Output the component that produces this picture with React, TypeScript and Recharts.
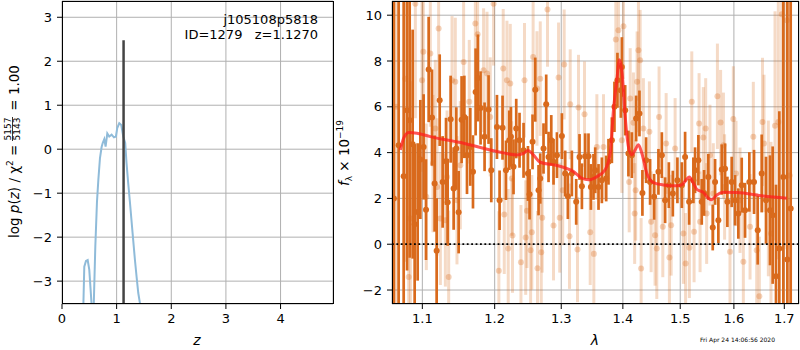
import React from 'react';
import { ComposedChart, Line, Scatter, ErrorBar, XAxis, YAxis, CartesianGrid } from 'recharts';

const FONT = '"DejaVu Sans", Verdana, sans-serif';

// left panel: log p(z)
const pzZ = [
  0.38, 0.39, 0.408, 0.439, 0.47, 0.499, 0.524, 0.55, 0.565, 0.58,
  0.61, 0.64, 0.665, 0.695, 0.725, 0.745, 0.774, 0.798, 0.829, 0.865,
  0.908, 0.951, 0.987, 1.011, 1.048, 1.085, 1.121, 1.157, 1.18, 1.21,
  1.243, 1.292, 1.335, 1.365, 1.396, 1.426, 1.44, 1.45,
];
const pzLogP = [
  -4.5, -3.6, -2.67, -2.54, -2.52, -2.74, -3.2, -3.7, -4.5, -3.6,
  -2.2, -1.2, -0.7, -0.2, 0.05, 0.14, 0.23, 0.06, 0.36, 0.29,
  0.33, 0.27, 0.29, 0.48, 0.59, 0.55, 0.29, 0.14, -0.3, -0.75,
  -1.2, -1.91, -2.52, -2.9, -3.27, -3.5, -3.52, -4.5,
];
const zBest = 1.127;
const zBestTop = 2.48;

const zTicks = [0, 1, 2, 3, 4];
const logpTicks = [-3, -2, -1, 0, 1, 2, 3];
const zDomain = [0, 4.96];
const logpDomain = [-3.52, 3.37];

// right panel: spectrum (dark = first orient, light = second)
const darkLam = [
  1.0630, 1.0691, 1.0756, 1.0800, 1.0834, 1.0873, 1.0899, 1.0938, 1.0974, 1.1017,
  1.1049, 1.1084, 1.1129, 1.1164, 1.1191, 1.1232, 1.1272, 1.1318, 1.1340, 1.1381,
  1.1422, 1.1459, 1.1491, 1.1532, 1.1570, 1.1607, 1.1653, 1.1691, 1.1728, 1.1761,
  1.1798, 1.1855, 1.1912, 1.1951, 1.2033, 1.2071, 1.2114, 1.2164, 1.2212, 1.2237,
  1.2275, 1.2315, 1.2364, 1.2424, 1.2490, 1.2514, 1.2559, 1.2600, 1.2650, 1.2676,
  1.2726, 1.2767, 1.2803, 1.2845, 1.2880, 1.2933, 1.3010, 1.3062, 1.3104, 1.3167,
  1.3236, 1.3289, 1.3327, 1.3380, 1.3433, 1.3472, 1.3514, 1.3542, 1.3596, 1.3651,
  1.3722, 1.3760, 1.3816, 1.3859, 1.3909, 1.3966, 1.3983, 1.4039, 1.4094, 1.4152,
  1.4225, 1.4282, 1.4333, 1.4397, 1.4466, 1.4536, 1.4612, 1.4672, 1.4730, 1.4796,
  1.4867, 1.4949, 1.5029, 1.5088, 1.5161, 1.5239, 1.5270, 1.5331, 1.5393, 1.5436,
  1.5516, 1.5598, 1.5642, 1.5704, 1.5768, 1.5831, 1.5875, 1.5958, 1.6022, 1.6086,
  1.6151, 1.6216, 1.6300, 1.6392, 1.6465, 1.6544, 1.6630, 1.6710, 1.6764, 1.6831,
  1.6898, 1.6980, 1.7062, 1.7131,
];
const darkFlux = [
  2.0, 4.32, 2.97, 5.85, 5.41, 4.37, 0.87, 1.41, 3.70, 4.25,
  1.51, 7.63, 5.53, 2.65, -0.29, 6.29, 2.72, 3.62, 1.83, 5.46,
  2.43, 4.18, 1.40, 5.44, 5.56, 3.89, 4.25, 3.16, 6.65, 7.26,
  5.95, 4.69, 5.88, 3.23, 5.12, 1.92, 5.09, 3.23, 4.54, 4.69,
  3.38, 5.05, 4.54, 4.10, 3.09, 2.18, 4.47, 6.75, 2.36, 2.87,
  4.18, 6.11, 3.81, 4.54, 3.60, 3.89, 4.72, 3.09, 2.10, 3.09,
  1.85, 3.81, 2.53, 3.84, 3.84, 2.50, 2.94, 3.23, 2.50, 2.79,
  2.87, 3.60, 4.54, 6.00, 7.16, 6.72, 7.74, 5.85, 3.96, 3.89,
  5.49, 5.71, 2.24, 3.67, 2.72, 2.07, 3.16, 3.89, 1.92, 2.58,
  2.21, 2.79, 2.58, 3.81, 1.85, 2.79, 3.23, 3.67, 1.85, 2.24,
  2.94, 0.73, 2.72, 1.05, 3.26, 3.30, 1.85, 2.72, 1.92, 1.34,
  2.58, 1.48, 2.72, 2.72, 0.61, 3.09, 1.92, 1.48, 1.27, -1.40,
  -0.19, 2.94, -0.67, 1.56,
];
const darkErr = [
  20, 9, 8, 7, 6, 5, 3.5, 3, 2.6, 2.3,
  2.2, 2.3, 2.1, 2.1, 2.3, 2.0, 2.0, 1.9, 1.9, 1.9,
  1.8, 1.8, 1.8, 1.9, 1.8, 1.7, 1.7, 1.6, 1.9, 1.9,
  1.6, 1.5, 1.5, 1.4, 1.4, 1.3, 1.4, 1.3, 1.3, 1.3,
  1.2, 1.3, 1.2, 1.2, 1.2, 1.1, 1.2, 1.4, 1.1, 1.1,
  1.1, 1.3, 1.1, 1.1, 1.0, 1.0, 1.0, 1.0, 1.0, 1.0,
  1.0, 1.0, 1.0, 1.0, 1.0, 1.0, 1.0, 1.0, 1.0, 1.0,
  1.0, 1.0, 1.0, 1.1, 1.2, 1.2, 1.3, 1.1, 1.0, 1.0,
  1.0, 1.0, 1.0, 1.0, 1.0, 1.0, 1.0, 1.0, 1.0, 1.0,
  1.0, 1.0, 1.0, 1.1, 1.0, 1.0, 1.0, 1.1, 1.0, 1.0,
  1.0, 1.0, 1.0, 1.0, 1.1, 1.1, 1.1, 1.1, 1.1, 1.1,
  1.2, 1.2, 1.3, 1.4, 1.5, 1.7, 1.9, 2.4, 3.0, 4.0,
  6, 10, 14, 14,
];

const lightLam = [
  1.0660, 1.0778, 1.0821, 1.0843, 1.0908, 1.0996, 1.1013, 1.1053, 1.1106, 1.1142,
  1.1173, 1.1196, 1.1218, 1.1241, 1.1309, 1.1332, 1.1354, 1.1400, 1.1445, 1.1468,
  1.1514, 1.1560, 1.1639, 1.1724, 1.1756, 1.1841, 1.1890, 1.1936, 1.1984, 1.2060,
  1.2124, 1.2139, 1.2178, 1.2197, 1.2227, 1.2249, 1.2260, 1.2385, 1.2438, 1.2456,
  1.2475, 1.2530, 1.2548, 1.2568, 1.2626, 1.2634, 1.2676, 1.2691, 1.2706, 1.2787,
  1.2880, 1.2958, 1.2976, 1.3023, 1.3046, 1.3130, 1.3141, 1.3257, 1.3273, 1.3369,
  1.3461, 1.3520, 1.3569, 1.3678, 1.3882, 1.3926, 1.3983, 1.4010, 1.4107, 1.4124,
  1.4179, 1.4200, 1.4217, 1.4242, 1.4265, 1.4294, 1.4311, 1.4350, 1.4454, 1.4484,
  1.4553, 1.4583, 1.4623, 1.4689, 1.4748, 1.4806, 1.4837, 1.4908, 1.5057, 1.5097,
  1.5166, 1.5210, 1.5252, 1.5344, 1.5362, 1.5422, 1.5466, 1.5484, 1.5546, 1.5609,
  1.5686, 1.5746, 1.5800, 1.5822, 1.5925, 1.5989, 1.6041, 1.6118, 1.6183, 1.6314,
  1.6378, 1.6445, 1.6497, 1.6560, 1.6590, 1.6677, 1.6730, 1.6811, 1.6878, 1.6948,
  1.7050, 1.7110,
];
const lightFlux = [
  6.0, 7.23, -1.43, 1.12, 10.5, 7.16, 8.4, 2.07, 8.33, 3.52,
  5.05, 2.50, 9.42, 1.12, 1.05, 2.94, -1.43, 7.16, 7.09, 1.92,
  3.45, 7.96, 6.22, 9.64, 9.17, 7.60, 7.45, 5.56, 10.5, -1.16,
  7.67, 1.30, 7.16, -0.19, 7.02, 2.87, 0.38, -0.79, 7.16, 0.29,
  1.46, -0.26, 0.52, 8.18, 6.80, -1.05, 7.23, -0.35, 1.16, 10.25,
  0.82, 7.28, 1.16, 2.36, 7.85, 0.35, 6.11, -0.23, 5.97, 5.68,
  0.52, -0.42, 4.25, 4.25, 8.94, 9.34, 4.54, 9.52, 2.72, 6.36,
  5.30, 1.34, 2.36, 7.09, 8.47, 8.03, -1.06, 5.05, 4.91, 0.98,
  0.39, -0.19, 5.56, 0.76, 4.40, -0.58, 0.83, 4.18, 0.47, -0.84,
  -0.15, 6.22, 0.54, 5.27, 0.98, 4.66, 5.05, 1.34, 3.89, 2.21,
  6.46, 5.31, 4.32, 2.50, -0.33, 5.47, 3.09, 1.92, -0.77, 0.76,
  4.69, -0.26, -2.27, 5.34, 4.40, 2.00, 0.47, 5.17, 5.34, 10.04,
  9.78, 3.0,
];
const lightErr = [
  9, 8, 7, 6, 5, 4, 3.5, 3.2, 3.2, 3.0,
  3.0, 3.0, 3.0, 2.9, 2.9, 2.9, 2.9, 2.8, 2.8, 2.8,
  2.8, 2.8, 2.7, 2.8, 2.8, 2.7, 2.7, 2.6, 2.7, 2.6,
  2.6, 2.6, 2.6, 2.6, 2.6, 2.5, 2.5, 2.5, 2.5, 2.5,
  2.5, 2.5, 2.5, 2.5, 2.5, 2.5, 2.5, 2.4, 2.4, 2.5,
  2.4, 2.4, 2.4, 2.4, 2.4, 2.3, 2.4, 2.3, 2.3, 2.3,
  2.3, 2.3, 2.3, 2.3, 2.3, 2.3, 2.3, 2.3, 2.2, 2.2,
  2.2, 2.2, 2.2, 2.2, 2.2, 2.2, 2.2, 2.2, 2.2, 2.2,
  2.2, 2.2, 2.2, 2.2, 2.2, 2.2, 2.2, 2.2, 2.2, 2.2,
  2.2, 2.2, 2.2, 2.2, 2.2, 2.2, 2.2, 2.2, 2.2, 2.2,
  2.3, 2.3, 2.3, 2.3, 2.3, 2.3, 2.3, 2.3, 2.3, 2.3,
  2.4, 2.5, 2.6, 2.8, 3.0, 3.4, 4.0, 5.0, 6.0, 8.0,
  10, 14,
];

const modelLam = [
  1.0713, 1.0756, 1.0821, 1.0930, 1.1106, 1.1560, 1.2033, 1.2325, 1.2424, 1.2490,
  1.2550, 1.2676, 1.2933, 1.3193, 1.3327, 1.3433, 1.3569, 1.3705, 1.3788, 1.3843,
  1.3899, 1.3943, 1.3988, 1.4039, 1.4094, 1.4152, 1.4208, 1.4265, 1.4323, 1.4409,
  1.4524, 1.4700, 1.4938, 1.5029, 1.5106, 1.5166, 1.5239, 1.5301, 1.5422, 1.5516,
  1.5579, 1.5674, 1.5800, 1.6054, 1.6577, 1.7050,
];
const modelFlux = [
  4.12, 4.63, 4.88, 4.85, 4.70, 4.41, 4.05, 3.90, 3.97, 4.09,
  3.97, 3.58, 3.44, 3.17, 2.88, 2.81, 2.95, 3.25, 3.97, 5.87,
  7.18, 8.05, 7.47, 5.58, 4.26, 3.90, 4.12, 4.34, 3.97, 3.10,
  2.69, 2.59, 2.55, 2.59, 2.81, 2.93, 2.66, 2.40, 2.26, 2.01,
  1.94, 2.15, 2.27, 2.26, 2.11, 2.01,
];

const lamTicks = [1.1, 1.2, 1.3, 1.4, 1.5, 1.6, 1.7];
const fluxTicks = [-2, 0, 2, 4, 6, 8, 10];
const lamDomain = [1.0606, 1.7303];
const fluxDomain = [-2.61, 10.62];

const pzData = pzZ.map((z, i) => ({ x: z, v: pzLogP[i] }));
const bestData = [{ x: zBest, v: -4 }, { x: zBest, v: zBestTop }];
const darkData = darkLam.map((l, i) => ({ x: l, f: darkFlux[i], e: darkErr[i] }));
const lightData = lightLam.map((l, i) => ({ x: l, f: lightFlux[i], e: lightErr[i] }));
const modelData = modelLam.map((l, i) => ({ x: l, f: modelFlux[i] }));
const zeroData = [{ x: lamDomain[0], f: 0 }, { x: lamDomain[1], f: 0 }];

const ORANGE = '#d96a1c';
const ORANGE_LIGHT = 'rgba(217,106,28,0.25)';
const ORANGE_LIGHT_DOT = 'rgba(217,106,28,0.3)';

const tickStyle = { fill: '#000', fontSize: 13, fontFamily: FONT };
const fmt = (v: number) => String(v).replace('-', '\u2212');

const darkDot = (p: any) => <circle cx={p.cx} cy={p.cy} r={3} fill={ORANGE} />;
const lightDot = (p: any) => <circle cx={p.cx} cy={p.cy} r={3} fill={ORANGE_LIGHT_DOT} />;

// plot rectangles (page px), matching matplotlib axes boxes
const LEFT_BOX = { x: 62, y: 1, w: 271, h: 303 };
const RIGHT_BOX = { x: 392, y: 1, w: 407, h: 303 };

const App: React.FC = () => {
  return (
    <div style={{ position: 'absolute', left: 0, top: 0, width: 800, height: 350, background: '#fff', fontFamily: FONT }}>
      {/* left axes + grid */}
      <div style={{ position: 'absolute', left: 0, top: 0 }}>
        <ComposedChart width={340} height={350} margin={{ top: 1, right: 7, bottom: 0, left: 0 }}>
          <CartesianGrid stroke="#b0b0b0" strokeWidth={1} />
          <XAxis
            dataKey="x" type="number" domain={zDomain} ticks={zTicks} allowDataOverflow
            height={46} axisLine={false} tickSize={5} tickMargin={5} interval={0}
            tick={tickStyle} tickLine={{ stroke: '#000' }}
          />
          <YAxis
            type="number" domain={logpDomain} ticks={logpTicks} allowDataOverflow
            width={62} axisLine={false} tickSize={5} tickMargin={5} interval={0}
            tick={tickStyle} tickLine={{ stroke: '#000' }} tickFormatter={fmt}
          />
          <Line data={bestData} dataKey="v" stroke="none" dot={false} isAnimationActive={false} />
        </ComposedChart>
      </div>
      {/* left data, clipped to the axes box */}
      <div style={{ position: 'absolute', left: LEFT_BOX.x, top: LEFT_BOX.y, width: LEFT_BOX.w, height: LEFT_BOX.h, overflow: 'hidden' }}>
        <ComposedChart width={LEFT_BOX.w} height={LEFT_BOX.h} margin={{ top: 0, right: 0, bottom: 0, left: 0 }}>
          <XAxis dataKey="x" type="number" domain={zDomain} allowDataOverflow hide />
          <YAxis type="number" domain={logpDomain} allowDataOverflow hide />
          <Line data={pzData} dataKey="v" type="linear" stroke="#8fbbd9" strokeWidth={2}
            dot={false} isAnimationActive={false} zIndex={400} />
          <Line data={bestData} dataKey="v" type="linear" stroke="#444" strokeWidth={2.5}
            dot={false} isAnimationActive={false} zIndex={410} />
        </ComposedChart>
      </div>

      {/* right axes + grid */}
      <div style={{ position: 'absolute', left: 330, top: 0 }}>
        <ComposedChart width={470} height={350} margin={{ top: 1, right: 1, bottom: 0, left: 0 }}>
          <CartesianGrid stroke="#b0b0b0" strokeWidth={1} />
          <XAxis
            dataKey="x" type="number" scale="log" domain={lamDomain} ticks={lamTicks} allowDataOverflow
            height={46} axisLine={false} tickSize={5} tickMargin={5} interval={0}
            tick={tickStyle} tickLine={{ stroke: '#000' }} tickFormatter={(v: number) => v.toFixed(1)}
          />
          <YAxis
            type="number" domain={fluxDomain} ticks={fluxTicks} allowDataOverflow
            width={62} axisLine={false} tickSize={5} tickMargin={5} interval={0}
            tick={tickStyle} tickLine={{ stroke: '#000' }} tickFormatter={fmt}
          />
          <Line data={zeroData} dataKey="f" stroke="none" dot={false} isAnimationActive={false} />
        </ComposedChart>
      </div>
      {/* right data, clipped to the axes box */}
      <div style={{ position: 'absolute', left: RIGHT_BOX.x, top: RIGHT_BOX.y, width: RIGHT_BOX.w, height: RIGHT_BOX.h, overflow: 'hidden' }}>
        <ComposedChart width={RIGHT_BOX.w} height={RIGHT_BOX.h} margin={{ top: 0, right: 0, bottom: 0, left: 0 }}>
          <XAxis dataKey="x" type="number" scale="log" domain={lamDomain} allowDataOverflow hide />
          <YAxis type="number" domain={fluxDomain} allowDataOverflow hide />
          <Scatter data={lightData} dataKey="f" shape={lightDot} isAnimationActive={false} zIndex={600}>
            <ErrorBar dataKey="e" direction="y" width={0} stroke={ORANGE_LIGHT} strokeWidth={3} />
          </Scatter>
          <Scatter data={darkData} dataKey="f" shape={darkDot} isAnimationActive={false} zIndex={610}>
            <ErrorBar dataKey="e" direction="y" width={0} stroke={ORANGE} strokeWidth={2.7} />
          </Scatter>
          <Line data={modelData} dataKey="f" type="monotone" stroke="rgba(255,30,30,0.75)" strokeWidth={3}
            dot={false} isAnimationActive={false} zIndex={700} />
          <Line data={zeroData} dataKey="f" type="linear" stroke="#000" strokeWidth={1.8} strokeDasharray="1.8 2.6"
            dot={false} isAnimationActive={false} zIndex={710} />
        </ComposedChart>
      </div>

      <svg width={800} height={350} style={{ position: 'absolute', left: 0, top: 0, pointerEvents: 'none' }}
        fontFamily={FONT}>
        <rect x={LEFT_BOX.x + 0.5} y={LEFT_BOX.y + 0.5} width={LEFT_BOX.w} height={LEFT_BOX.h - 1} fill="none" stroke="#000" strokeWidth={1} />
        <rect x={RIGHT_BOX.x + 0.5} y={RIGHT_BOX.y + 0.5} width={RIGHT_BOX.w - 1} height={RIGHT_BOX.h - 1} fill="none" stroke="#000" strokeWidth={1} />

        <text x={318} y={24} fontSize={13} textAnchor="end">j105108p5818</text>
        <text x={318} y={39} fontSize={13} textAnchor="end" style={{ whiteSpace: 'pre' }}>ID=1279   z=1.1270</text>

        <text x={197} y={345} fontSize={14} fontStyle="italic" textAnchor="middle">z</text>
        <text x={595} y={345} fontSize={14} fontStyle="italic" textAnchor="middle">λ</text>

        <g transform="translate(19,153) rotate(-90)">
          <text x={-85} y={0} fontSize={13.5}>
            <tspan>log </tspan>
            <tspan fontStyle="italic">p</tspan>
            <tspan>(</tspan>
            <tspan fontStyle="italic">z</tspan>
            <tspan>) / χ</tspan>
            <tspan fontSize={9} dy={-6}>2</tspan>
            <tspan dy={6} style={{ whiteSpace: 'pre' }}> = </tspan>
          </text>
          <text x={24} y={-8} fontSize={9} textAnchor="middle">5157</text>
          <line x1={12} x2={36} y1={-6.5} y2={-6.5} stroke="#000" strokeWidth={0.8} />
          <text x={24} y={1} fontSize={9} textAnchor="middle">5143</text>
          <text x={38} y={0} fontSize={13.5} style={{ whiteSpace: 'pre' }}> = 1.00</text>
        </g>

        <g transform="translate(349,153) rotate(-90)">
          <text x={0} y={0} fontSize={13.5} textAnchor="middle">
            <tspan fontStyle="italic">f</tspan>
            <tspan fontSize={9} dy={3}>λ</tspan>
            <tspan dy={-3} style={{ whiteSpace: 'pre' }}> × 10</tspan>
            <tspan fontSize={9} dy={-6}>−19</tspan>
          </text>
        </g>

        <text x={700} y={342} fontSize={6}>Fri Apr 24 14:06:56 2020</text>
      </svg>
    </div>
  );
};

export default App;
